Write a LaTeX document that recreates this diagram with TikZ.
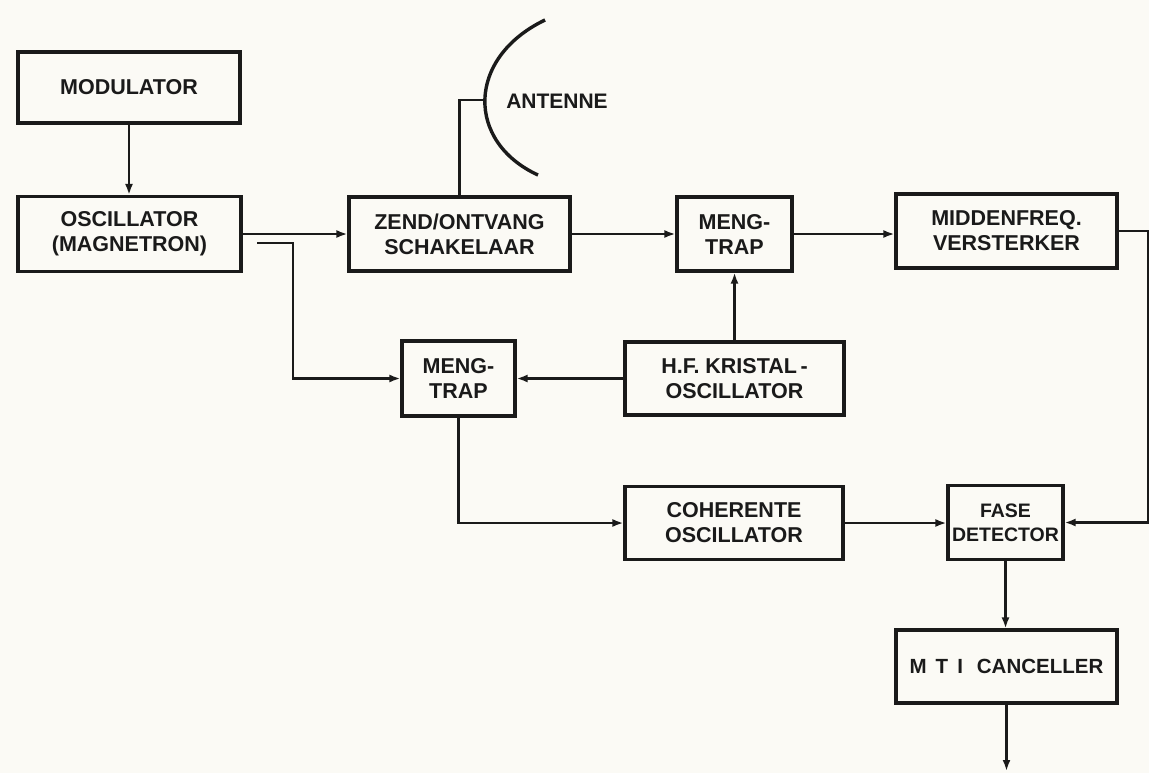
\documentclass[tikz,border=0pt]{standalone}
\usepackage{fontspec}
\setmainfont{Liberation Sans}
\usetikzlibrary{arrows.meta}
\definecolor{paper}{HTML}{FBFAF5}
\definecolor{ink}{HTML}{1A1A1A}
\tikzset{
  blk/.style={draw=ink, line width=3.1pt, inner sep=0pt, align=center, text=ink,
    font=\fontsize{21.5}{25}\selectfont\bfseries},
  conn/.style={draw=ink, line width=2.2pt},
  arr/.style={conn, -{Latex[length=11pt,width=8pt]}},
  lbl/.style={text=ink, font=\fontsize{21}{25}\selectfont\bfseries}
}
\begin{document}
\begin{tikzpicture}[x=1pt,y=-1pt]
\useasboundingbox (0,0) rectangle (1149,773);
\fill[paper] (0,0) rectangle (1149,773);

\node[blk, minimum width=222pt, minimum height=71pt] (mod) at (129,87.5) {MODULATOR};
\node[blk, minimum width=223pt, minimum height=75pt] (osc) at (129.5,234) {OSCILLATOR\\(MAGNETRON)};
\node[blk, minimum width=221pt, minimum height=74pt] (zend) at (459.5,234) {ZEND/ONTVANG\\SCHAKELAAR};
\node[blk, minimum width=115pt, minimum height=74pt] (meng1) at (734.5,234) {MENG-\\TRAP};
\node[blk, minimum width=221pt, minimum height=74pt] (mid) at (1006.5,231) {MIDDENFREQ.\\VERSTERKER};
\node[blk, minimum width=113pt, minimum height=75pt] (meng2) at (458.5,378.5) {MENG-\\TRAP};
\node[blk, minimum width=219pt, minimum height=73pt] (hf) at (734.5,378.5) {H.F. KRISTAL\,-\\OSCILLATOR};
\node[blk, minimum width=218pt, minimum height=73pt] (coh) at (734,523) {COHERENTE\\OSCILLATOR};
\node[blk, minimum width=115pt, minimum height=74pt, font=\fontsize{19.5}{24}\selectfont\bfseries] (fase) at (1005.5,522.5) {FASE\\DETECTOR};
\node[blk, minimum width=221pt, minimum height=73pt, font=\fontsize{20.5}{25}\selectfont\bfseries] (mti) at (1006.5,666.5) {M\hspace{9pt}T\hspace{9pt}I\hspace{14pt}CANCELLER};

% antenna
\coordinate (feed) at (485,100);
\draw[draw=ink, line width=3.4pt] (545,20) .. controls (466,58) and (466,142) .. (538,175);
\node[lbl] (ant) at (557,101) {ANTENNE};
\draw[conn] (zend.north) |- (feed);

% connectors
\draw[arr] (mod.south) -- (mod.south |- osc.north);
\draw[arr] (osc.east) -- (zend.west);
\coordinate (tap) at (257,243);
\draw[arr] (tap) -- (293,243) |- (meng2.west);
\draw[arr] (zend.east) -- (meng1.west);
\draw[arr] (meng1.east) -- (meng1.east -| mid.west);
\draw[arr] (hf.north) -- (meng1.south);
\draw[arr] (hf.west) -- (meng2.east);
\draw[arr] (meng2.south) |- (coh.west);
\draw[arr] (coh.east) -- (coh.east -| fase.west);
\draw[arr] (mid.east) -- ++(30,0) |- (fase.east);
\draw[arr] (fase.south) -- (fase.south |- mti.north);
\coordinate (out) at (1006.5,771);
\draw[arr] (mti.south) -- (out);
\end{tikzpicture}
\end{document}
